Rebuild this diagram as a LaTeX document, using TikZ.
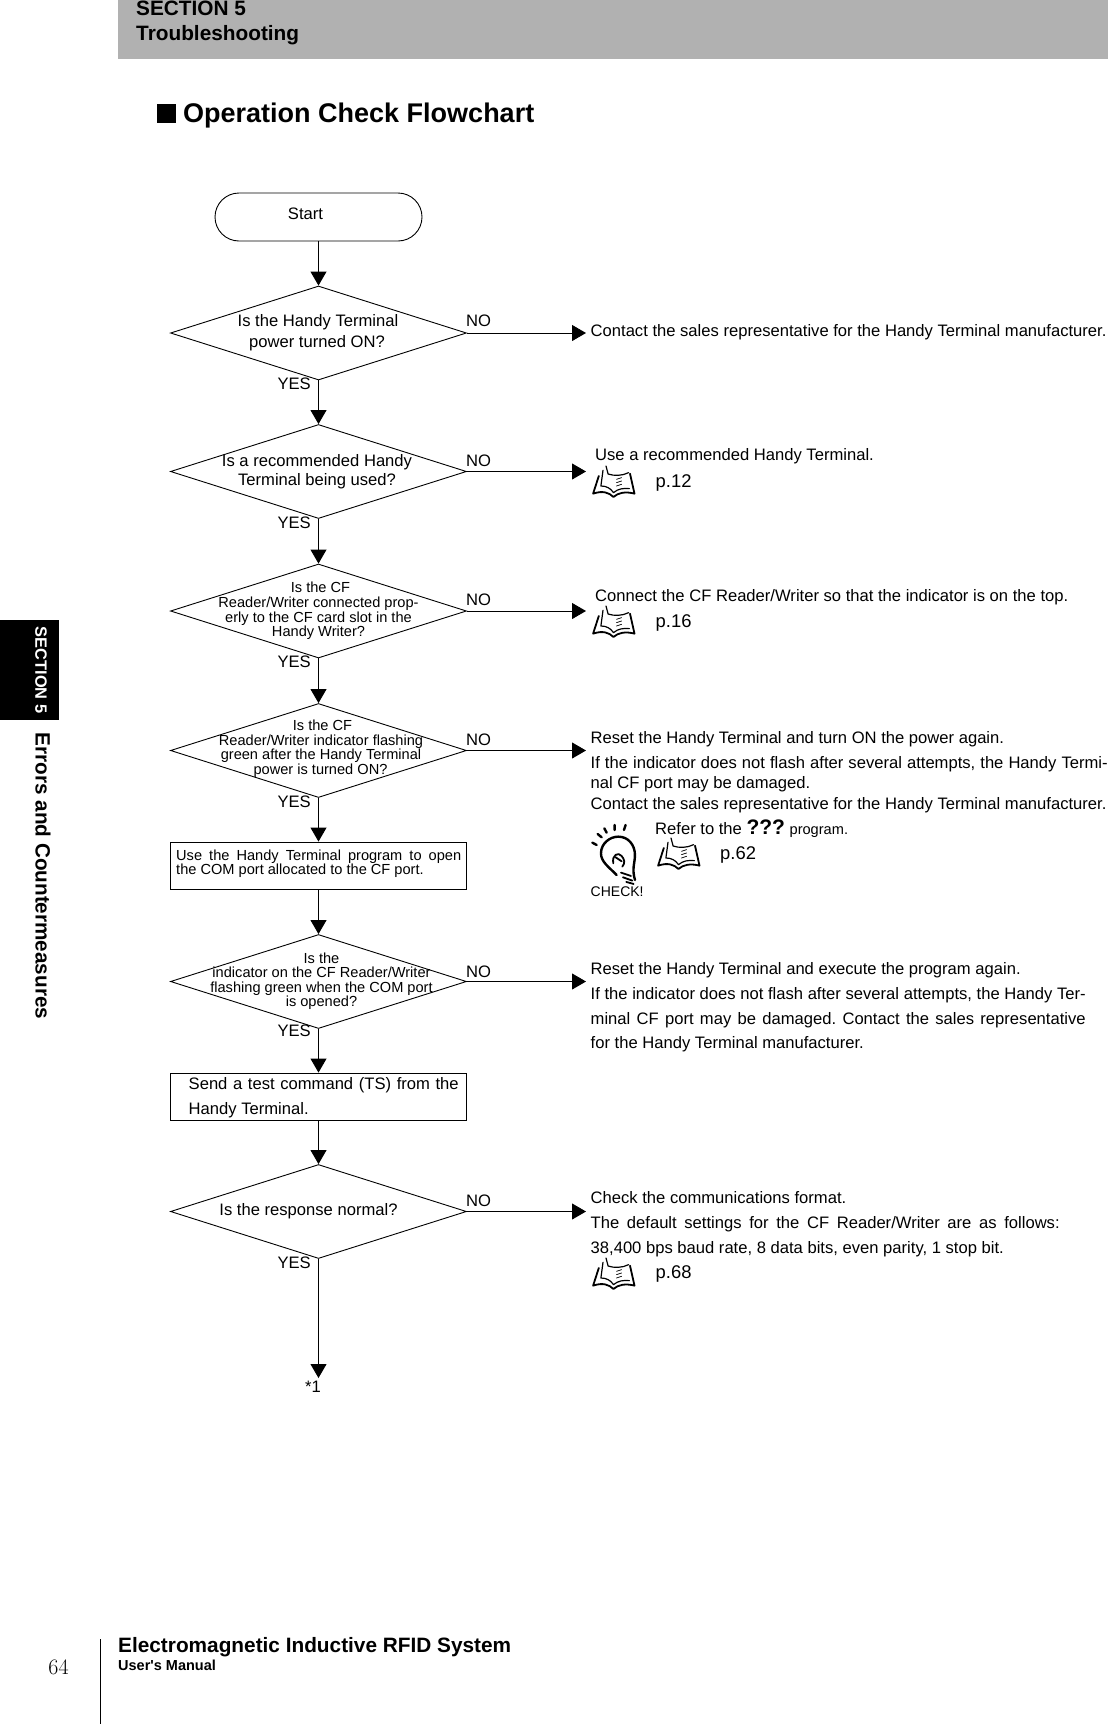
\documentclass[tikz,border=0pt]{standalone}
\usepackage{fontspec}
\usepackage{tikz}
\usetikzlibrary{arrows.meta,shapes.geometric}
\newfontfamily\handyfont{Liberation Sans}
\frenchspacing
\definecolor{headgray}{RGB}{177,177,177}
\tikzset{
  decision/.style={diamond,draw,line width=.9pt,aspect=3.15,minimum width=296pt,minimum height=94pt,inner sep=0pt},
  action/.style={rectangle,draw,line width=.9pt,minimum width=296pt,minimum height=47pt,inner sep=0pt},
  flow/.style={-{Triangle[length=14pt,width=16pt]},line width=.9pt},
  line/.style={inner sep=0pt,text height=13.2pt,text depth=0pt,font=\handyfont\fontsize{16.6}{20}\selectfont},
  body/.style={line,anchor=west},
  pageref/.style={line,anchor=west,font=\handyfont\fontsize{18.4}{22}\selectfont},
  ask/.style={line},
  smallask/.style={line,font=\handyfont\fontsize{14.6}{17}\selectfont},
  answer/.style={line,font=\handyfont\fontsize{16.6}{20}\selectfont},
  head/.style={inner sep=0pt,anchor=west,text height=13.2pt,text depth=0pt},
  inkline/.style={line width=1.8pt,line cap=round,line join=round}
}
\newcommand{\bookicon}[2]{%
  \begin{scope}[shift={(#1,#2)},x=.3pt,y=-.333pt,inkline]
    \draw (27,95) -- (46,42) (27,95) .. controls (60,85) and (80,92) .. (95,105)
      .. controls (110,92) and (135,88) .. (165,95) -- (150,35);
    \draw[line width=1.2pt] (60,25) -- (53,72) .. controls (70,72) and (85,78) .. (95,92)
      .. controls (110,80) and (130,78) .. (148,80);
    \draw[line width=1.2pt] (70,12) -- (77,36) .. controls (95,42) and (125,42) .. (145,32);
    \draw[line width=.7pt] (105,52) -- (122,47) (105,62) -- (122,57) (105,72) -- (122,67);
  \end{scope}}
\newcommand{\checkicon}[2]{%
  \begin{scope}[shift={(#1,#2)},x=.333pt,y=-.333pt,inkline]
    \draw[line width=2.4pt] (95,165) .. controls (70,140) and (48,125) .. (48,100)
      .. controls (48,70) and (75,50) .. (100,50)
      .. controls (130,50) and (150,75) .. (150,105)
      .. controls (150,130) and (140,145) .. (150,180);
    \draw[line width=2.4pt] (22,68) -- (35,75) (38,42) -- (50,52) (58,25) -- (65,38)
      (89,15) -- (89,30) (122,15) -- (117,30);
    \draw (85,130) .. controls (80,105) and (100,95) .. (110,108)
      .. controls (118,118) and (122,128) .. (112,140);
    \draw (92,112) -- (110,124);
    \draw (108,158) -- (138,168) (114,172) -- (142,182) (124,186) -- (146,192);
  \end{scope}}
\begin{document}
\begin{tikzpicture}[x=1pt,y=-1pt]
  \useasboundingbox (0,0) rectangle (1108,1724);
  % page furniture
  \fill[headgray] (118,0) rectangle (1108,59);
  \node[head,font=\handyfont\bfseries\fontsize{20.8}{24}\selectfont] (sectionname) at (136,9) {SECTION 5};
  \node[head,font=\handyfont\bfseries\fontsize{20.8}{24}\selectfont] (chaptername) at (136,34) {Troubleshooting};
  \fill (157,104) rectangle (176,123);
  \node[head,font=\handyfont\bfseries\fontsize{27}{32}\selectfont] (title) at (183,116) {Operation Check Flowchart};
  \fill (0,620) rectangle (59,720);
  \node[rotate=-90,inner sep=0pt,text=white,font=\handyfont\bfseries\fontsize{16.4}{19}\selectfont] (sidetab) at (41,670) {SECTION 5};
  \node[rotate=-90,inner sep=0pt,font=\handyfont\bfseries\fontsize{20.7}{24}\selectfont] (sidetitle) at (43,876) {Errors and Countermeasures};
  \draw[line width=.9pt] (100.5,1639) -- (100.5,1724);
  \node[inner sep=0pt,font=\fontsize{22}{26}\selectfont] (pagenumber) at (58.5,1667) {64};
  \node[head,font=\handyfont\bfseries\fontsize{20.8}{24}\selectfont] (manualname) at (118,1646) {Electromagnetic Inductive RFID System};
  \node[head,font=\handyfont\bfseries\fontsize{14.5}{17}\selectfont] (manualkind) at (118,1664) {User's Manual};
  % flow
  \node[rectangle,draw,line width=.9pt,rounded corners=24pt,minimum width=207pt,minimum height=48pt,inner sep=0pt] (start) at (318.5,217) {};
  \node[line] (starttext) at (305.5,213) {Start};
  \node[decision] (power) at (318.5,333) {};
  \node[decision] (handy) at (318.5,471.5) {};
  \node[decision] (slot) at (318.5,611) {};
  \node[decision] (flash) at (318.5,750.5) {};
  \node[action] (comport) at (318.5,865.5) {};
  \node[decision] (portflash) at (318.5,981.5) {};
  \node[action] (testcmd) at (318.5,1096.5) {};
  \node[decision] (response) at (318.5,1211.5) {};
  \coordinate (endpoint) at (318.5,1378);
  \foreach \a/\b in {start/power,power/handy,handy/slot,slot/flash,flash/comport,comport/portflash,portflash/testcmd,testcmd/response}
    \draw[flow] (\a.south) -- (\b.north);
  \draw[flow] (response.south) -- (endpoint);
  \foreach \a/\y in {power/333,handy/471.5,slot/611,flash/750.5,portflash/981.5,response/1211.5}{
    \coordinate (\a out) at (586,\y);
    \draw[flow] (\a.east) -- (\a out);
  }
  % answers
  \foreach \i/\ya/\yb in {1/320/382.5,2/459.5/522,3/599/660.5,4/738.5/801,5/970.5/1030,6/1200/1262}{
    \node[answer,anchor=west] (no\i) at (466,\ya) {NO};
    \node[answer,anchor=east] (yes\i) at (311,\yb) {YES};
  }
  \node[answer] (star) at (313,1386) {*1};
  % questions
  \node[ask] (q1a) at (318,320) {Is the Handy Terminal};
  \node[ask] (q1b) at (317,341) {power turned ON?};
  \node[ask] (q2a) at (317,459.5) {Is a recommended Handy};
  \node[ask] (q2b) at (317,479) {Terminal being used?};
  \node[smallask] (q3a) at (320.5,586) {Is the CF};
  \node[smallask] (q3b) at (318.5,601) {Reader/Writer connected prop-};
  \node[smallask] (q3c) at (318.5,616) {erly to the CF card slot in the};
  \node[smallask] (q3d) at (318.5,630) {Handy Writer?};
  \node[smallask] (q4a) at (322.5,724) {Is the CF};
  \node[smallask] (q4b) at (321,739) {Reader/Writer indicator flashing};
  \node[smallask] (q4c) at (321,753) {green after the Handy Terminal};
  \node[smallask] (q4d) at (320.5,768) {power is turned ON?};
  \node[smallask] (q5a) at (321.5,957) {Is the};
  \node[smallask] (q5b) at (321.5,971) {indicator on the CF Reader/Writer};
  \node[smallask] (q5c) at (321.5,986) {flashing green when the COM port};
  \node[smallask] (q5d) at (321.5,1000) {is opened?};
  \node[ask] (q6a) at (308.5,1209) {Is the response normal?};
  \node[smallask,anchor=west] (a1a) at (176,854) {\makebox[285pt][s]{Use the Handy Terminal program to open}};
  \node[smallask,anchor=west] (a1b) at (176,868) {the COM port allocated to the CF port.};
  \node[body] (a2a) at (188.5,1083) {\makebox[270pt][s]{Send a test command (TS) from the}};
  \node[body] (a2b) at (188.5,1108) {Handy Terminal.};
  % remedies
  \node[body] (r1a) at (590.5,330) {Contact the sales representative for the Handy Terminal manufacturer.};
  \node[body] (r2a) at (595,454) {Use a recommended Handy Terminal.};
  \bookicon{585}{462}
  \node[pageref] (r2b) at (655.5,481) {p.12};
  \node[body] (r3a) at (595,595) {Connect the CF Reader/Writer so that the indicator is on the top.};
  \bookicon{585}{602}
  \node[pageref] (r3b) at (655.5,620.5) {p.16};
  \node[body] (r4a) at (590.5,737) {Reset the Handy Terminal and turn ON the power again.};
  \node[body] (r4b) at (590.5,762) {\makebox[517pt][s]{If the indicator does not flash after several attempts, the Handy Termi-}};
  \node[body] (r4c) at (590.5,782) {nal CF port may be damaged.};
  \node[body] (r4d) at (590.5,803) {Contact the sales representative for the Handy Terminal manufacturer.};
  \checkicon{585}{820}
  \node[body,font=\handyfont\fontsize{14}{16}\selectfont] (checkmark) at (590.5,890) {CHECK!};
  \node[body] (r4e) at (655,828) {Refer to the {\bfseries\fontsize{21}{24}\selectfont ???} {\fontsize{14.6}{17}\selectfont program.}};
  \bookicon{650}{834}
  \node[pageref] (r4f) at (720,852.5) {p.62};
  \node[body] (r5a) at (590.5,967.5) {Reset the Handy Terminal and execute the program again.};
  \node[body] (r5b) at (590.5,993) {\makebox[495pt][s]{If the indicator does not flash after several attempts, the Handy Ter-}};
  \node[body] (r5c) at (590.5,1018) {\makebox[495pt][s]{minal CF port may be damaged. Contact the sales representative}};
  \node[body] (r5d) at (590.5,1042) {for the Handy Terminal manufacturer.};
  \node[body] (r6a) at (590.5,1197) {Check the communications format.};
  \node[body] (r6b) at (590.5,1222) {\makebox[469pt][s]{The default settings for the CF Reader/Writer are as follows:}};
  \node[body] (r6c) at (590.5,1246.5) {38,400 bps baud rate, 8 data bits, even parity, 1 stop bit.};
  \bookicon{585}{1254}
  \node[pageref] (r6d) at (655.5,1271.5) {p.68};
\end{tikzpicture}
\end{document}
